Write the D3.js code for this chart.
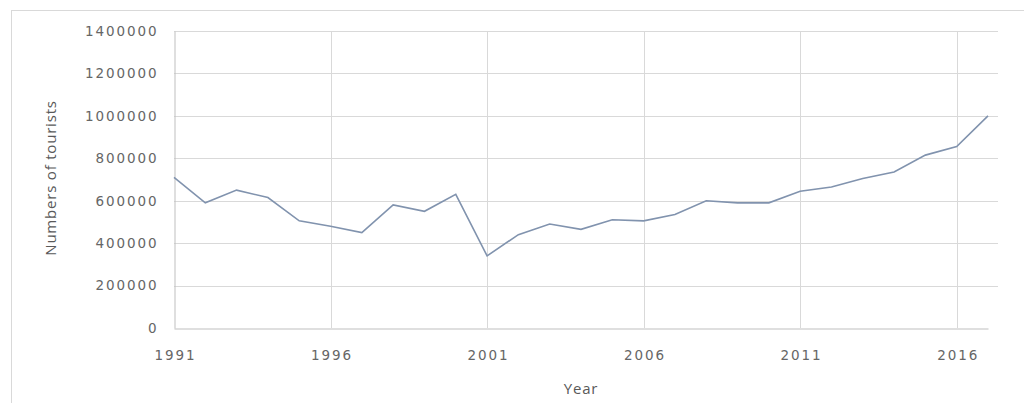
<!DOCTYPE html>
<html>
<head>
<meta charset="utf-8">
<script src="https://cdn.jsdelivr.net/npm/d3@7"></script>
<style>
  body { margin: 0; background: #fff; }
  svg { display: block; }
  .tick text { font-family: "DejaVu Sans", Verdana, sans-serif; font-size: 13.5px; letter-spacing: 1.9px; fill: #666; }
  .title { font-family: "Open Sans", "Noto Sans", sans-serif; font-size: 15px; letter-spacing: 0.8px; fill: #595959; }
</style>
</head>
<body>
<svg id="chart" width="1024" height="403"></svg>
<script>
(function() {

    var years = [1991, 1992, 1993, 1994, 1995, 1996, 1997, 1998, 1999, 2000,
                 2001, 2002, 2003, 2004, 2005, 2006, 2007, 2008, 2009, 2010,
                 2011, 2012, 2013, 2014, 2015, 2016, 2017];
    var tourists = [710000, 590000, 650000, 615000, 505000, 480000, 450000, 580000, 550000, 630000,
                    340000, 440000, 490000, 465000, 510000, 505000, 535000, 600000, 590000, 590000,
                    645000, 665000, 705000, 735000, 815000, 855000, 1000000];
    var yearTicks = [1991, 1996, 2001, 2006, 2011, 2016];
    var valueTicks = [0, 200000, 400000, 600000, 800000, 1000000, 1200000, 1400000];

    var svg = d3.select("#chart"),
        left = 174,
        right = 988,
        top = 31,
        bottom = 328;

    // outer frame
    svg.append("rect")
        .attr("x", 11.5).attr("y", 10.5)
        .attr("width", 1030).attr("height", 420)
        .attr("fill", "none")
        .attr("stroke", "#d9d9d9");

    var x = d3.scaleLinear().domain([1991, 2017]).range([left, right]);
    var y = d3.scaleLinear().domain([0, 1400000]).range([bottom, top]);

    // horizontal grid
    svg.append("g")
        .selectAll("line")
        .data(valueTicks.slice(1))
        .enter().append("line")
        .attr("x1", left).attr("x2", 998)
        .attr("y1", function(d) { return Math.round(y(d)) + 0.5; })
        .attr("y2", function(d) { return Math.round(y(d)) + 0.5; })
        .attr("stroke", "#d9d9d9");

    // vertical grid
    svg.append("g")
        .selectAll("line")
        .data(yearTicks.slice(1))
        .enter().append("line")
        .attr("x1", function(d) { return Math.round(x(d)) + 0.5; })
        .attr("x2", function(d) { return Math.round(x(d)) + 0.5; })
        .attr("y1", top).attr("y2", bottom)
        .attr("stroke", "#d9d9d9");

    var yAxis = svg.append("g")
        .attr("transform", "translate(" + (left + 0.5) + ",0)")
        .call(d3.axisLeft(y).tickValues(valueTicks).tickSize(0).tickPadding(16).tickFormat(d3.format("d")));
    yAxis.select(".domain").attr("stroke", "#bfbfbf");

    var xAxis = svg.append("g")
        .attr("transform", "translate(0," + (bottom + 0.5) + ")")
        .call(d3.axisBottom(x).tickValues(yearTicks).tickSize(0).tickPadding(22).tickFormat(d3.format("d")));
    xAxis.select(".domain").attr("stroke", "#bfbfbf");
    xAxis.selectAll(".tick text").attr("dx", "0.07em");

    var line = d3.line()
        .x(function(d, i) { return x(years[i]); })
        .y(function(d) { return y(d); });

    svg.append("path")
        .datum(tourists)
        .attr("d", line)
        .attr("fill", "none")
        .attr("stroke", "#8193ae")
        .attr("stroke-width", 1.6);

    svg.append("text")
        .attr("class", "title")
        .attr("x", 581).attr("y", 394)
        .attr("text-anchor", "middle")
        .text("Year");

    svg.append("text")
        .attr("class", "title")
        .attr("transform", "translate(56,178) rotate(-90)")
        .attr("text-anchor", "middle")
        .text("Numbers of tourists");

})();
</script>
</body>
</html>
